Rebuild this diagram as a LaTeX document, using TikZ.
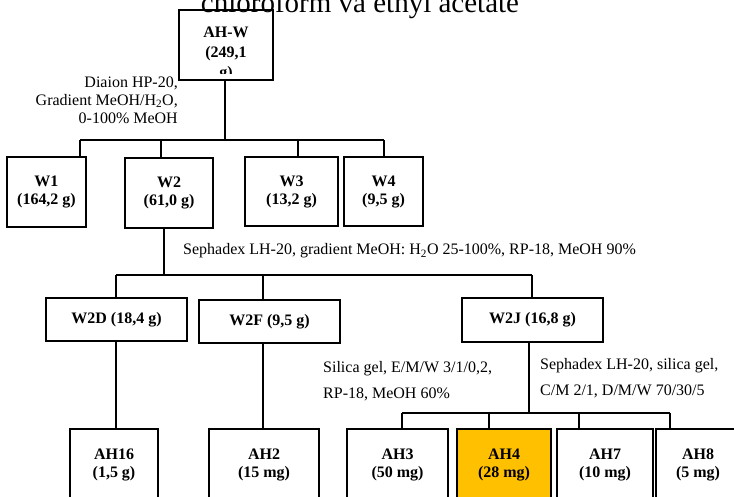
\documentclass[tikz,border=0pt]{standalone}
\usepackage{fontspec}
\setmainfont{Liberation Serif}
\usepackage{tikz}
\usetikzlibrary{positioning,calc}
\definecolor{fracgold}{RGB}{255,192,0}

\tikzset{
  box/.style={draw,line width=1.8pt,align=center,inner sep=0pt,
    font=\bfseries\fontsize{16}{18}\selectfont},
  link/.style={line width=1.6pt},
  cond/.style={inner sep=0pt,font=\fontsize{16}{18}\selectfont}
}

\begin{document}
\begin{tikzpicture}[x=1pt,y=-1pt]
  \useasboundingbox (0,0) rectangle (734,496);
  \clip (0,0) rectangle (734,496);

  % ── Title line (cut at the top) ──
  \node[anchor=base,inner sep=0pt,font=\fontsize{29}{32}\selectfont] (title) at (360,12) {chloroform và ethyl acetate};

  % ── Crude extract ──
  \node[box,minimum width=94pt,minimum height=70pt] (ahw) at (226,45) {};
  \begin{scope}
    \clip (180,11) rectangle (272,73);
    \node[box,draw=none,anchor=north,font=\bfseries\fontsize{16}{20}\selectfont] (ahwtxt) at (226,26) {AH-W\\(249,1\\g)};
  \end{scope}

  % ── Diaion fractions ──
  \node[box,minimum width=79pt,minimum height=70pt] (w1) at (46.5,192) {W1\\(164,2 g)};
  \node[box,minimum width=88pt,minimum height=70pt] (w2) at (169,193) {W2\\(61,0 g)};
  \node[box,minimum width=93pt,minimum height=69pt] (w3) at (291.5,191.5) {W3\\(13,2 g)};
  \node[box,minimum width=79pt,minimum height=69pt] (w4) at (383.5,191.5) {W4\\(9,5 g)};

  \node[cond,align=right,anchor=east] (diaion) at (178,100) {Diaion HP-20,\\Gradient MeOH/H\textsubscript{2}O,\\0-100\% MeOH};

  \coordinate (j0) at (225,140);
  \coordinate (b1) at (80,140);
  \coordinate (b2) at (161,140);
  \coordinate (b3) at (298,140);
  \coordinate (b4) at (384,140);
  \draw[link] (ahw.south -| j0) -- (j0);
  \draw[link] (b1) -- (b4);
  \draw[link] (b1) -- (b1 |- w1.north);
  \draw[link] (b2) -- (b2 |- w2.north);
  \draw[link] (b3) -- (b3 |- w3.north);
  \draw[link] (b4) -- (b4 |- w4.north);

  % ── Sephadex fractions of W2 ──
  \node[box,minimum width=141pt,minimum height=43pt] (w2d) at (116.5,319.5) {W2D (18,4 g)};
  \node[box,minimum width=141pt,minimum height=43pt] (w2f) at (269.5,321.5) {W2F (9,5 g)};
  \node[box,minimum width=141pt,minimum height=44pt] (w2j) at (532.5,320) {W2J (16,8 g)};

  \node[cond,anchor=west] (sepha) at (183,251) {Sephadex LH-20, gradient MeOH: H\textsubscript{2}O 25-100\%, RP-18, MeOH 90\%};

  \coordinate (j1) at (164,275);
  \coordinate (c1) at (116,275);
  \coordinate (c2) at (263,275);
  \coordinate (c3) at (532,275);
  \draw[link] (w2.south -| j1) -- (j1);
  \draw[link] (c1) -- (c3);
  \draw[link] (c1) -- (c1 |- w2d.north);
  \draw[link] (c2) -- (c2 |- w2f.north);
  \draw[link] (c3) -- (c3 |- w2j.north);

  % ── Pure compounds ──
  \node[box,minimum width=88pt,minimum height=72pt] (ah16) at (114,465) {AH16\\(1,5 g)};
  \node[box,minimum width=110pt,minimum height=72pt] (ah2) at (264,465) {AH2\\(15 mg)};
  \node[box,minimum width=101pt,minimum height=72pt] (ah3) at (397.5,465) {AH3\\(50 mg)};
  \node[box,fill=fracgold,minimum width=94pt,minimum height=72pt] (ah4) at (504,465) {AH4\\(28 mg)};
  \node[box,minimum width=96pt,minimum height=72pt] (ah7) at (605,465) {AH7\\(10 mg)};
  \node[box,minimum width=84pt,minimum height=72pt] (ah8) at (698,465) {AH8\\(5 mg)};

  \node[cond,align=left,anchor=west,font=\fontsize{16}{26}\selectfont] (silica) at (323,381) {Silica gel, E/M/W 3/1/0,2,\\RP-18, MeOH 60\%};
  \node[cond,align=left,anchor=west,font=\fontsize{16}{26}\selectfont] (sephb) at (540,378) {Sephadex LH-20, silica gel,\\C/M 2/1, D/M/W 70/30/5};

  \draw[link] (116,0 |- w2d.south) -- (116,0 |- ah16.north);
  \draw[link] (263,0 |- w2f.south) -- (263,0 |- ah2.north);

  \coordinate (j2) at (529,413);
  \coordinate (d1) at (402,413);
  \coordinate (d2) at (489,413);
  \coordinate (d3) at (579,413);
  \coordinate (d4) at (670,413);
  \draw[link] (w2j.south -| j2) -- (j2);
  \draw[link] (d1) -- (d4);
  \draw[link] (d1) -- (d1 |- ah3.north);
  \draw[link] (d2) -- (d2 |- ah4.north);
  \draw[link] (d3) -- (d3 |- ah7.north);
  \draw[link] (d4) -- (d4 |- ah8.north);
\end{tikzpicture}
\end{document}
